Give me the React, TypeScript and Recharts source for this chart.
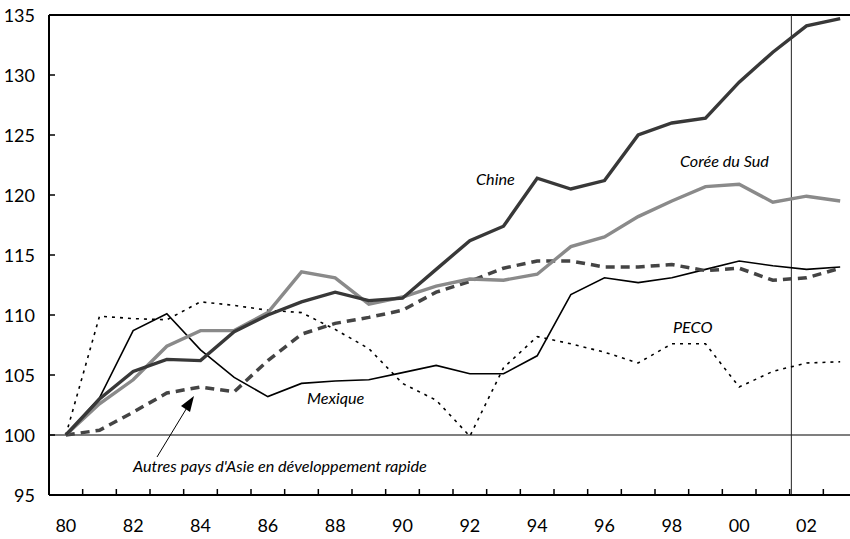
import React from 'react';
import { LineChart, Line, XAxis, YAxis, ReferenceLine } from 'recharts';

// indices base 1980 = 100
const years = ['80', '81', '82', '83', '84', '85', '86', '87', '88', '89', '90', '91', '92', '93', '94', '95', '96', '97', '98', '99', '00', '01', '02', '03'];
const chine = [100, 103.0, 105.3, 106.3, 106.2, 108.6, 110.0, 111.1, 111.9, 111.2, 111.4, 113.8, 116.2, 117.4, 121.4, 120.5, 121.2, 125.0, 126.0, 126.4, 129.4, 131.9, 134.1, 134.7];
const coree = [100, 102.6, 104.6, 107.4, 108.7, 108.7, 110.2, 113.6, 113.1, 110.9, 111.5, 112.4, 113.0, 112.9, 113.4, 115.7, 116.5, 118.2, 119.5, 120.7, 120.9, 119.4, 119.9, 119.5];
const autresAsie = [100, 100.4, 101.9, 103.5, 104.0, 103.6, 106.2, 108.4, 109.3, 109.8, 110.4, 111.9, 112.8, 113.9, 114.5, 114.5, 114.0, 114.0, 114.2, 113.7, 113.9, 112.9, 113.1, 113.9];
const mexique = [100, 103.1, 108.7, 110.1, 107.1, 104.8, 103.2, 104.3, 104.5, 104.6, 105.2, 105.8, 105.1, 105.1, 106.6, 111.7, 113.1, 112.7, 113.1, 113.8, 114.5, 114.1, 113.8, 114.0];
const peco = [100, 109.9, 109.7, 109.6, 111.1, 110.8, 110.4, 110.2, 108.8, 107.2, 104.3, 102.9, 99.9, 105.6, 108.2, 107.6, 106.9, 106.0, 107.6, 107.6, 104.0, 105.3, 106.0, 106.1];
const yTicks = [95, 100, 105, 110, 115, 120, 125, 130, 135];

const data = years.map((year, i) => ({
  i,
  year,
  chine: chine[i],
  coree: coree[i],
  autres: autresAsie[i],
  mexique: mexique[i],
  peco: peco[i],
}));

const bandEdges = [...years.map((_, i) => i - 0.5), years.length - 0.5];

const Y_AXIS_W = 49;
const PLOT_W = 808;
const BAND = PLOT_W / years.length;
const FONT = 'Lato, "Open Sans", sans-serif';

const XTick = (props: any) => {
  const { x, y, payload } = props;
  const idx = Math.round(payload.value + 0.5);
  const label = idx < years.length && idx % 2 === 0 ? years[idx] : null;
  return (
    <g>
      <line x1={x} x2={x} y1={y} y2={y - 6} stroke="#000" strokeWidth={1.5} />
      {label && (
        <text x={x + BAND / 2} y={y + 30} textAnchor="middle" dominantBaseline="central" fontFamily={FONT} fontSize={18} fill="#000">
          {label}
        </text>
      )}
    </g>
  );
};

const YTick = (props: any) => {
  const { x, y, payload } = props;
  return (
    <g>
      <line x1={x} x2={x + 6} y1={y} y2={y} stroke="#000" strokeWidth={1.5} />
      <text x={x - 14} y={y} textAnchor="end" dominantBaseline="central" fontFamily={FONT} fontSize={18} fill="#000">
        {payload.value}
      </text>
    </g>
  );
};

const labelStyle = { fontFamily: FONT, fontStyle: 'italic' as const, fontSize: 16.2, fill: '#000' };

export default function App() {
  return (
    <div style={{ position: 'absolute', left: 0, top: 0, width: 850, height: 539, overflow: 'hidden', background: '#fff' }}>
      <LineChart width={Y_AXIS_W + PLOT_W} height={539} data={data} margin={{ top: 15, right: 0, bottom: 0, left: 0 }}>
        <XAxis
          dataKey="i"
          type="number"
          domain={[-0.5, years.length - 0.5]}
          ticks={bandEdges}
          interval={0}
          tick={<XTick />}
          tickLine={false}
          tickSize={0}
          tickMargin={0}
          height={44}
          axisLine={{ stroke: '#000', strokeWidth: 2 }}
        />
        <YAxis
          type="number"
          domain={[95, 135]}
          ticks={yTicks}
          interval={0}
          tick={<YTick />}
          tickLine={false}
          tickSize={0}
          tickMargin={0}
          width={Y_AXIS_W}
          axisLine={{ stroke: '#000', strokeWidth: 2 }}
        />
        <ReferenceLine y={135} stroke="#000" strokeWidth={2} />
        <ReferenceLine y={100} stroke="#000" strokeWidth={1.2} />
        <ReferenceLine x={21.55} stroke="#222" strokeWidth={1} />

        <Line dataKey="peco" type="linear" stroke="#000" strokeWidth={1.6} strokeDasharray="3 5" dot={false} isAnimationActive={false} />
        <Line dataKey="mexique" type="linear" stroke="#000" strokeWidth={1.6} dot={false} isAnimationActive={false} />
        <Line dataKey="autres" type="linear" stroke="#444" strokeWidth={3.5} strokeDasharray="9 6" dot={false} isAnimationActive={false} />
        <Line dataKey="coree" type="linear" stroke="#8a8a8a" strokeWidth={3.4} dot={false} isAnimationActive={false} />
        <Line dataKey="chine" type="linear" stroke="#383838" strokeWidth={3.4} dot={false} isAnimationActive={false} />

        <text x={476} y={185} {...labelStyle}>Chine</text>
        <text x={680} y={167} {...labelStyle}>Corée du Sud</text>
        <text x={673} y={333} {...labelStyle}>PECO</text>
        <text x={307} y={404} {...labelStyle}>Mexique</text>
        <text x={133} y={472} {...labelStyle}>Autres pays d'Asie en développement rapide</text>
        <line x1={157} y1={457} x2={188} y2={406} stroke="#000" strokeWidth={1} />
        <polygon points="194,396 181,406 190,412" fill="#000" />
      </LineChart>
    </div>
  );
}
